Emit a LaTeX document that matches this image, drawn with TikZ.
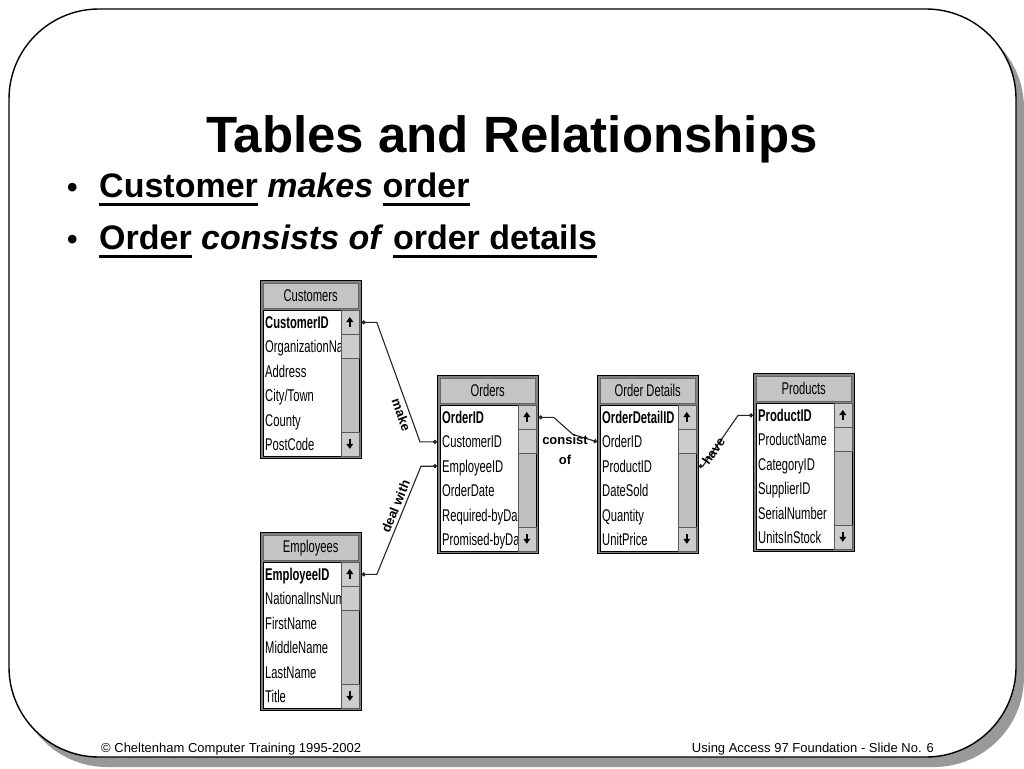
\documentclass[tikz,border=0pt]{standalone}
\usepackage{fontspec}
\setmainfont{Liberation Sans}
\newfontfamily\tblfont[FakeStretch=0.66]{Liberation Sans}
\usetikzlibrary{positioning,calc,arrows.meta}
\definecolor{shadowgray}{HTML}{999999}
\definecolor{framegray}{HTML}{808080}
\definecolor{headgray}{HTML}{C4C4C4}
\definecolor{bargray}{HTML}{C0C0C0}
\definecolor{btngray}{HTML}{CCCCCC}
\newsavebox\ulbox
\newcommand{\slideul}[1]{\sbox\ulbox{#1}\rlap{\rule[-8.5pt]{\wd\ulbox}{2.8pt}}\usebox\ulbox}

\begin{document}
\begin{tikzpicture}[x=1pt,y=1pt,
	every node/.style={inner sep=0pt},
	tblbox/.style={draw=black, line width=0.8pt, fill=framegray, minimum width=101pt, minimum height=178pt, anchor=north west},
	tblhead/.style={draw=black!60, fill=headgray, minimum width=95pt, minimum height=25pt, anchor=north west, font=\tblfont\fontsize{17}{18}\selectfont},
	tblbody/.style={draw=black, line width=0.6pt, fill=white},
	tblrow/.style={anchor=base west, font=\tblfont\fontsize{17}{18}\selectfont},
	sbtn/.style={draw=black!65, line width=0.6pt, fill=btngray},
	relline/.style={draw=black!85, line width=1.1pt, {Circle[length=4pt]}-{Circle[length=4pt]}},
	rellabel/.style={inner sep=3pt, font=\bfseries\fontsize{13}{15}\selectfont}]
	\useasboundingbox (0,0) rectangle (1024,-768);
	\fill [shadowgray, rounded corners=90pt] (17,-18) rectangle (1024,-767);
	\draw [black, fill=white, line width=1.4pt, rounded corners=90pt] (9,-9) rectangle (1016,-757);
	\node [anchor=base] (title) at (512,-152) {\fontsize{51}{56}\selectfont\bfseries Tables and Relationships};
	\node [anchor=base west] (bul1) at (67,-197) {\fontsize{30}{40}\selectfont\bfseries •};
	\node [anchor=base west] (item1) at (99,-197) {\fontsize{34}{40}\selectfont\bfseries \slideul{Customer} \textit{makes} \slideul{order}};
	\node [anchor=base west] (bul2) at (67,-249) {\fontsize{30}{40}\selectfont\bfseries •};
	\node [anchor=base west] (item2) at (99,-249) {\fontsize{34}{40}\selectfont\bfseries \slideul{Order} \textit{consists of} \slideul{order details}};
	\foreach \tn/\tx/\ty/\ttl in {cust/260/280/Customers, ord/437/375/Orders, odet/597/375/Order Details, prod/753/373/Products, emp/260/532/Employees}{
		\node [tblbox] (\tn) at (\tx,-\ty) {};
		\node [tblhead] (\tn-head) at ([shift={(3,-3)}]\tn.north west) {\ttl};
		\draw [tblbody] ([shift={(3,-30)}]\tn.north west) rectangle ([shift={(-3,3)}]\tn.south east);
	}
	\foreach \rt [count=\i] in {\bfseries CustomerID, OrganizationNa, Address, City/Town, County, PostCode}
		\node [tblrow] (cust\i) at ([shift={(5,{-24-24.4*\i})}]cust.north west) {\rt};
	\foreach \rt [count=\i] in {\bfseries OrderID, CustomerID, EmployeeID, OrderDate, Required-byDa, Promised-byDa}
		\node [tblrow] (ord\i) at ([shift={(5,{-24-24.4*\i})}]ord.north west) {\rt};
	\foreach \rt [count=\i] in {\bfseries OrderDetailID, OrderID, ProductID, DateSold, Quantity, UnitPrice}
		\node [tblrow] (odet\i) at ([shift={(5,{-24-24.4*\i})}]odet.north west) {\rt};
	\foreach \rt [count=\i] in {\bfseries ProductID, ProductName, CategoryID, SupplierID, SerialNumber, UnitsInStock}
		\node [tblrow] (prod\i) at ([shift={(5,{-24-24.4*\i})}]prod.north west) {\rt};
	\foreach \rt [count=\i] in {\bfseries EmployeeID, NationalInsNum, FirstName, MiddleName, LastName, Title}
		\node [tblrow] (emp\i) at ([shift={(5,{-24-24.4*\i})}]emp.north west) {\rt};
	\foreach \tn in {cust,ord,odet,prod,emp}{
		\fill [bargray] ([shift={(-21,-30)}]\tn.north east) rectangle ([shift={(-3,3)}]\tn.south east);
		\draw [black!65, line width=0.6pt] ([shift={(-21,-30)}]\tn.north east) -- ([shift={(-21,3)}]\tn.south east);
		\draw [sbtn] ([shift={(-21,-30)}]\tn.north east) rectangle ++(18,-24);
		\draw [sbtn] ([shift={(-21,-54)}]\tn.north east) rectangle ++(18,-24);
		\draw [sbtn] ([shift={(-21,3)}]\tn.south east) rectangle ++(18,24);
		\fill ([shift={(-12,-37)}]\tn.north east) -- ++(-3.5,-5) -- ++(7,0) -- cycle;
		\fill ([shift={(-13,-42)}]\tn.north east) rectangle ++(2,-5);
		\fill ([shift={(-12,10)}]\tn.south east) -- ++(-3.5,5) -- ++(7,0) -- cycle;
		\fill ([shift={(-13,15)}]\tn.south east) rectangle ++(2,5);
	}
	\draw [relline] ([yshift=6pt]cust1.base -| cust.east) -- ++(15,0) -- ($([yshift=6pt]ord2.base -| ord.west)+(-17,0)$) node [rellabel, pos=.75, sloped, below] (lblmake) {make} -- ([yshift=6pt]ord2.base -| ord.west);
	\draw [relline] ([yshift=6pt]emp1.base -| emp.east) -- ++(15,0) -- ($([yshift=6pt]ord3.base -| ord.west)+(-16,0)$) node [rellabel, pos=.6, sloped, above] (lbldeal) {deal with} -- ([yshift=6pt]ord3.base -| ord.west);
	\draw [relline] ([yshift=6pt]ord1.base -| ord.east) -- ++(15,0) -- ++(19,-17) -- ([yshift=6pt]odet2.base -| odet.west);
	\node [rellabel] (lblconsist) at (565,-440) {consist};
	\node [rellabel, below=4pt of lblconsist] (lblof) {of};
	\draw [relline] ([yshift=6pt]odet3.base -| odet.east) -- ++(4,0) -- ($([yshift=6pt]prod1.base -| prod.west)+(-15,0)$) node [rellabel, pos=.3, sloped] (lblhave) {have} -- ([yshift=6pt]prod1.base -| prod.west);
	\node [anchor=base west, font=\fontsize{13}{15}\selectfont] (footl) at (101,-752) {© Cheltenham Computer Training 1995-2002};
	\node [anchor=base east, font=\fontsize{13}{15}\selectfont] (footr) at (934,-752) {Using Access 97 Foundation - Slide No. 6};
\end{tikzpicture}
\end{document}
